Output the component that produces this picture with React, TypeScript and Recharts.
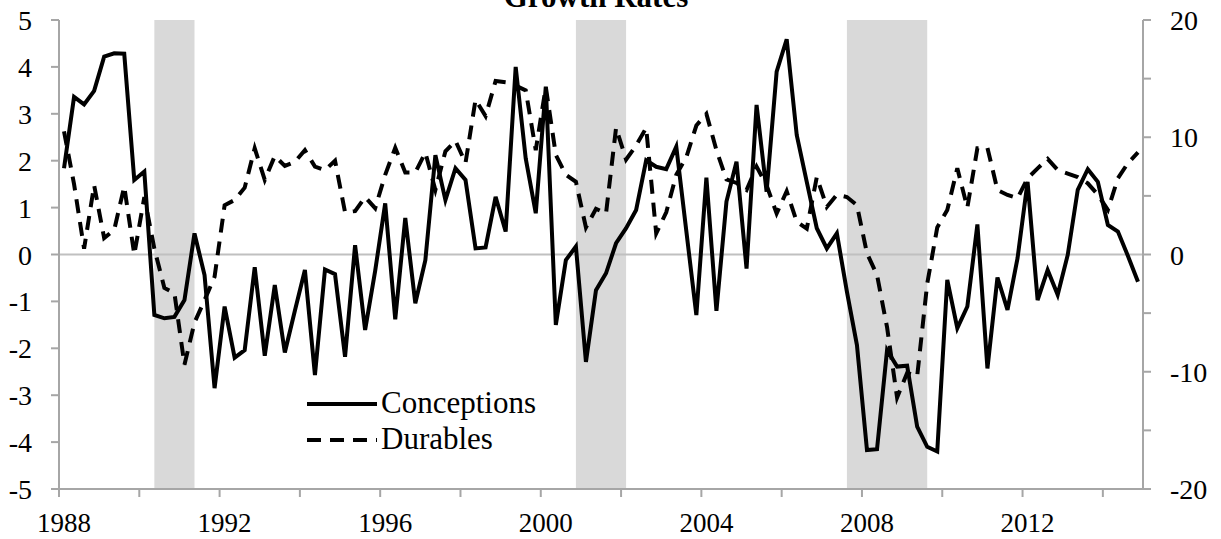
import React from 'react';
import { LineChart, Line, XAxis, YAxis, ReferenceArea, ReferenceLine } from 'recharts';

// quarterly growth rates, 1988Q1 - 2014Q4
const startYear = 1988;
const endYear = 2015;

// left axis, percent
const conceptions = [
  1.84, 3.36, 3.2, 3.49, 4.22, 4.29, 4.28, 1.59, 1.77, -1.29,
  -1.36, -1.33, -0.97, 0.45, -0.44, -2.85, -1.11, -2.2, -2.04, -0.27,
  -2.16, -0.65, -2.09, -1.2, -0.33, -2.57, -0.32, -0.42, -2.18, 0.2,
  -1.61, -0.35, 1.09, -1.38, 0.78, -1.04, -0.12, 2.12, 1.16, 1.84,
  1.59, 0.13, 0.15, 1.23, 0.49, 4.0, 2.05, 0.88, 3.58, -1.5,
  -0.12, 0.17, -2.29, -0.76, -0.4, 0.24, 0.56, 0.95, 2.01, 1.87,
  1.82, 2.3, 0.5, -1.29, 1.64, -1.2, 1.13, 1.98, -0.3, 3.19,
  1.34, 3.9, 4.59, 2.55, 1.55, 0.56, 0.13, 0.45, -0.79, -1.93,
  -4.17, -4.15, -2.04, -2.39, -2.37, -3.67, -4.1, -4.2, -0.54, -1.57,
  -1.11, 0.64, -2.43, -0.49, -1.18, -0.08, 1.55, -0.97, -0.33, -0.86,
  -0.01, 1.38, 1.82, 1.55, 0.63, 0.49, -0.03, -0.58,
];

// right axis, percent
const durables = [
  10.5, 6.0, 0.5, 5.9, 1.4, 2.1, 5.8, 0.0, 4.9, 0.5,
  -2.85, -3.3, -9.4, -5.8, -3.9, -1.9, 4.2, 4.65, 5.7, 9.06,
  6.36, 8.4, 7.55, 7.9, 8.9, 7.5, 7.2, 8.0, 3.6, 3.7,
  4.9, 3.95, 6.8, 9.1, 7.0, 7.0, 8.7, 5.5, 8.8, 9.7,
  7.8, 13.2, 11.8, 14.8, 14.7, 14.4, 14.0, 8.9, 14.3, 8.5,
  6.8, 6.2, 2.3, 3.9, 3.5, 10.8, 8.1, 9.3, 10.8, 1.8,
  3.6, 6.8, 8.3, 11.0, 12.0, 8.9, 6.4, 6.1, 5.5, 7.5,
  5.9, 3.5, 5.4, 2.8, 2.2, 6.6, 4.05, 5.1, 4.9, 4.2,
  0.1, -1.75, -6.2, -12.2, -10.1, -10.4, -2.5, 2.3, 3.8, 7.35,
  4.0, 9.06, 9.1, 5.5, 5.08, 4.8, 6.5, 7.35, 8.15, 7.2,
  6.9, 6.6, 6.07, 5.1, 3.8, 6.5, 7.8, 8.7,
];

// shaded recessions, first and last quarter
const recessionStart = ['1990Q2', '2000Q4', '2007Q3'];
const recessionEnd = ['1991Q2', '2002Q1', '2009Q3'];

const xTicks = [1988, 1990, 1992, 1994, 1996, 1998, 2000, 2002, 2004, 2006, 2008, 2010, 2012, 2014];
const xLabels = [1988, 1992, 1996, 2000, 2004, 2008, 2012];
const leftTicks = [-5, -4, -3, -2, -1, 0, 1, 2, 3, 4, 5];
const rightTicks = [-20, -15, -10, -5, 0, 5, 10, 15, 20];
const rightLabels = [-20, -10, 0, 10, 20];

const W = 1221;
const H = 539;
const LEFT_W = 59;
const RIGHT_W = 78;
const X_H = 50;
const HALF_Q = (W - LEFT_W - RIGHT_W) / ((endYear - startYear) * 4) / 2;

const FONT = "'Liberation Serif', 'DejaVu Serif', serif";
const AXIS = '#a6a6a6';
const DASH = '14 9';

const quarterPos = (q: string) => Number(q.slice(0, 4)) + (Number(q.slice(5)) - 0.5) / 4;

const data = conceptions.map((c, i) => ({
  t: startYear + (i + 0.5) / 4,
  conceptions: c,
  durables: durables[i],
}));

const XTick = (props: any) => {
  const { x, y, payload } = props;
  if (!xLabels.includes(payload.value)) return <g />;
  // excel centres the year label on its first quarter
  return (
    <text x={x + HALF_Q} y={y} dy={35} textAnchor="middle" fontSize={27} fill="#000" fontFamily={FONT}>
      {payload.value}
    </text>
  );
};

const LeftTick = (props: any) => {
  const { x, y, payload } = props;
  return (
    <text x={x} y={y} dy={10} textAnchor="end" fontSize={28} fill="#000" fontFamily={FONT}>
      {payload.value}
    </text>
  );
};

const RightTick = (props: any) => {
  const { x, y, payload } = props;
  if (!rightLabels.includes(payload.value)) return <g />;
  return (
    <text x={x} y={y} dy={10} textAnchor="start" fontSize={28} fill="#000" fontFamily={FONT}>
      {payload.value}
    </text>
  );
};

const App = () => {
  return (
    <div style={{ position: 'absolute', left: 0, top: 0, width: W, height: H, background: '#fff', overflow: 'hidden' }}>
      <LineChart width={W} height={H} data={data} margin={{ top: 20, right: 0, bottom: 0, left: 0 }}>
        {recessionStart.map((s, k) => (
          <ReferenceArea
            key={s}
            yAxisId="left"
            x1={quarterPos(s)}
            x2={quarterPos(recessionEnd[k])}
            y1={-5}
            y2={5}
            fill="#d9d9d9"
            fillOpacity={1}
            stroke="none"
          />
        ))}
        <ReferenceLine yAxisId="left" y={0} stroke="#c0c0c0" strokeWidth={2} />
        <XAxis
          dataKey="t"
          type="number"
          domain={[startYear, endYear]}
          ticks={xTicks}
          height={X_H}
          tickSize={8}
          tickMargin={0}
          axisLine={{ stroke: AXIS, strokeWidth: 2 }}
          tickLine={{ stroke: AXIS, strokeWidth: 2 }}
          tick={<XTick />}
          interval={0}
        />
        <YAxis
          yAxisId="left"
          domain={[-5, 5]}
          ticks={leftTicks}
          width={LEFT_W}
          tickSize={8}
          tickMargin={19}
          axisLine={{ stroke: AXIS, strokeWidth: 2 }}
          tickLine={{ stroke: AXIS, strokeWidth: 2 }}
          tick={<LeftTick />}
          interval={0}
        />
        <YAxis
          yAxisId="right"
          orientation="right"
          domain={[-20, 20]}
          ticks={rightTicks}
          width={RIGHT_W}
          tickSize={8}
          tickMargin={19}
          axisLine={{ stroke: AXIS, strokeWidth: 2 }}
          tickLine={{ stroke: AXIS, strokeWidth: 2 }}
          tick={<RightTick />}
          interval={0}
        />
        <Line
          yAxisId="left"
          type="linear"
          dataKey="conceptions"
          stroke="#000"
          strokeWidth={4}
          dot={false}
          isAnimationActive={false}
        />
        <Line
          yAxisId="right"
          type="linear"
          dataKey="durables"
          stroke="#000"
          strokeWidth={4}
          strokeDasharray={DASH}
          dot={false}
          isAnimationActive={false}
        />
      </LineChart>

      {/* title (clipped at the top in the original) and in-plot legend */}
      <svg width={W} height={H} style={{ position: 'absolute', left: 0, top: 0, pointerEvents: 'none' }}>
        <text x={596} y={7} textAnchor="middle" fontSize={31} fontWeight="bold" fontFamily={FONT} fill="#000">
          Growth Rates
        </text>
        <line x1={307} x2={377} y1={404} y2={404} stroke="#000" strokeWidth={4} />
        <text x={381} y={413} fontSize={31} fontFamily={FONT} fill="#000">Conceptions</text>
        <line x1={307} x2={377} y1={440} y2={440} stroke="#000" strokeWidth={4} strokeDasharray={DASH} />
        <text x={381} y={449} fontSize={31} fontFamily={FONT} fill="#000">Durables</text>
      </svg>
    </div>
  );
};

export default App;
